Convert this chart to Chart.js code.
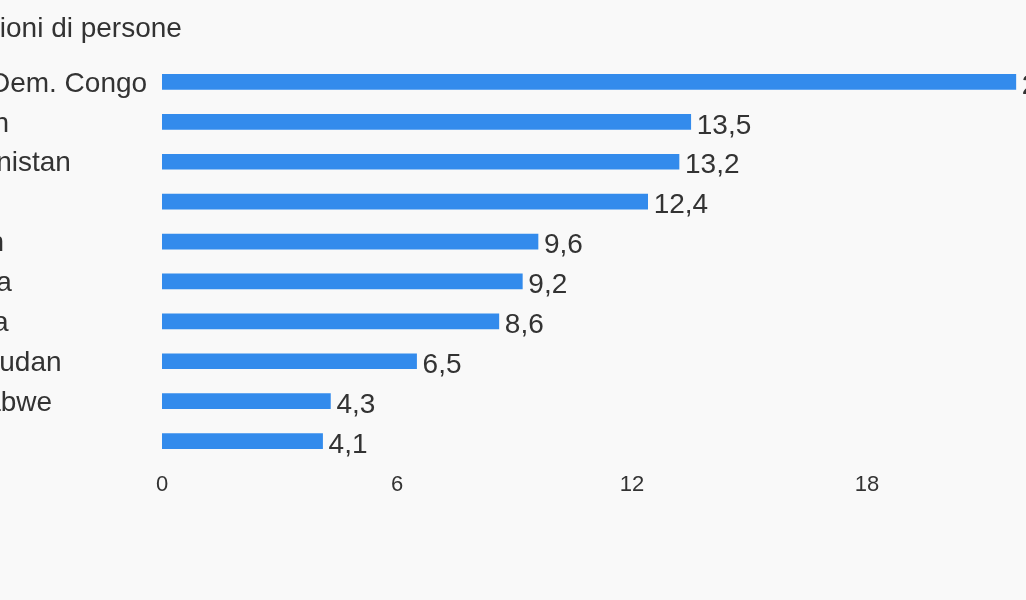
<!DOCTYPE html>
<html lang="it">
<head>
<meta charset="utf-8">
<title>Milioni di persone</title>
<script src="https://cdn.jsdelivr.net/npm/chart.js@4/dist/chart.umd.min.js"></script>
<style>
    html, body {
        margin: 0;
        padding: 0;
        width: 1026px;
        height: 600px;
        overflow: hidden;
        background: #f9f9f9;
    }
    #wrap {
        position: absolute;
        left: -77px;
        top: 0;
        width: 1300px;
        height: 600px;
    }
</style>
</head>
<body>
<div id="wrap">
    <canvas id="foodChart" width="1300" height="600"></canvas>
</div>
<script>
// Data
const chartTitle = 'Milioni di persone';
const countries = ['Rep. Dem. Congo', 'Yemen', 'Afghanistan', 'Siria', 'Sudan', 'Nigeria', 'Etiopia', 'Sud Sudan', 'Zimbabwe', 'Haiti'];
const people = [21.8, 13.5, 13.2, 12.4, 9.6, 9.2, 8.6, 6.5, 4.3, 4.1];
const xTicks = [0, 6, 12, 18, 24];

const FONT = '"Liberation Sans", Arial, sans-serif';
const TEXT = '#333333';

// Italian decimal comma
function fmt(v) {
    return String(v).replace('.', ',');
}

// Title at top left
const titlePlugin = {
    id: 'topTitle',
    afterDraw: function(chart) {
        const ctx = chart.ctx;
        ctx.save();
        ctx.font = '28px ' + FONT;
        ctx.fillStyle = TEXT;
        ctx.textAlign = 'left';
        ctx.textBaseline = 'middle';
        ctx.fillText(chartTitle, chart.chartArea.left - 198, 29);
        ctx.restore();
    }
};

// Value labels at the end of each bar
const valueLabels = {
    id: 'valueLabels',
    afterDatasetsDraw: function(chart) {
        const ctx = chart.ctx;
        const meta = chart.getDatasetMeta(0);
        ctx.save();
        ctx.font = '28px ' + FONT;
        ctx.fillStyle = TEXT;
        ctx.textAlign = 'left';
        ctx.textBaseline = 'middle';
        meta.data.forEach(function(bar, i) {
            ctx.fillText(fmt(people[i]), bar.x + 6, bar.y + 4);
        });
        ctx.restore();
    }
};

new Chart(document.getElementById('foodChart').getContext('2d'), {
    type: 'bar',
    data: {
        labels: countries,
        datasets: [{
            data: people,
            backgroundColor: '#338bec',
            barThickness: 15,
            borderWidth: 0
        }]
    },
    options: {
        indexAxis: 'y',
        responsive: false,
        animation: false,
        devicePixelRatio: 1,
        layout: {
            padding: { top: 62, right: 121, left: 0, bottom: 0 }
        },
        plugins: {
            legend: { display: false },
            title: { display: false },
            tooltip: { enabled: false }
        },
        scales: {
            x: {
                min: 0,
                max: 24,
                afterBuildTicks: function(scale) {
                    scale.ticks = xTicks.map(function(v) { return { value: v }; });
                },
                afterFit: function(scale) {
                    scale.height = 139;
                },
                grid: { display: false, drawTicks: false },
                border: { display: false },
                ticks: {
                    padding: 11,
                    color: TEXT,
                    font: { family: FONT, size: 22 }
                }
            },
            y: {
                afterFit: function(scale) {
                    scale.width = 239;
                },
                grid: { display: false, drawTicks: false },
                border: { display: false },
                ticks: {
                    padding: 15,
                    crossAlign: 'far',
                    labelOffset: 2,
                    color: TEXT,
                    font: { family: FONT, size: 28 }
                }
            }
        }
    },
    plugins: [titlePlugin, valueLabels]
});
</script>
</body>
</html>
